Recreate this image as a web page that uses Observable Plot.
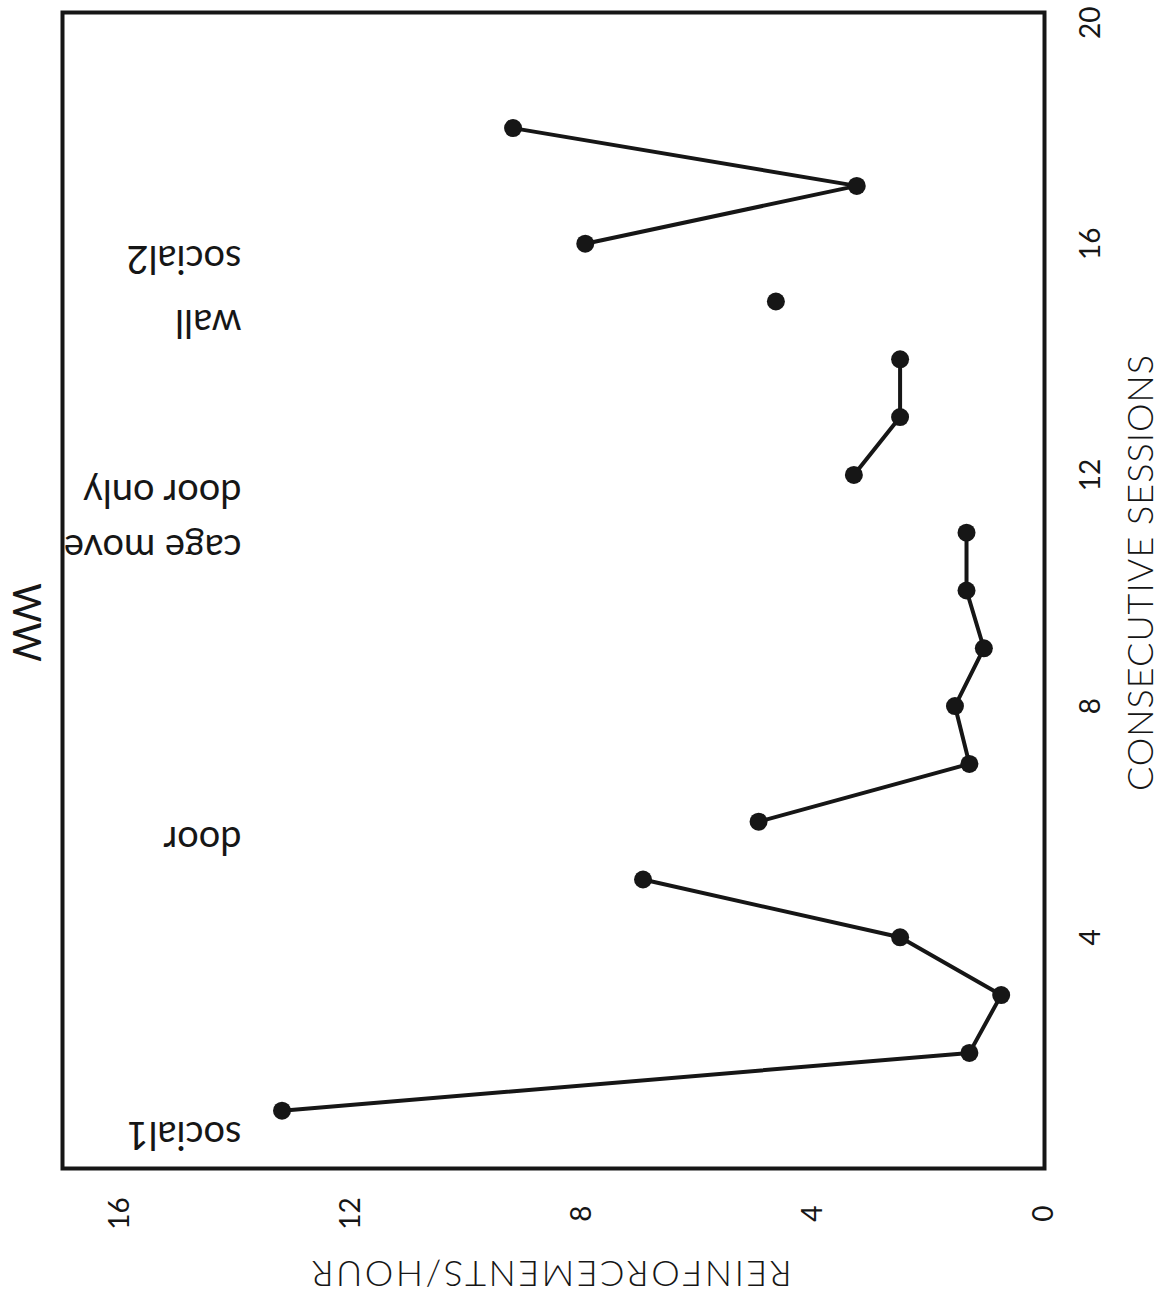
<!DOCTYPE html>
<html>
<head>
<meta charset="utf-8">
<script src="https://cdn.jsdelivr.net/npm/d3@7"></script>
<script src="https://cdn.jsdelivr.net/npm/@observablehq/plot@0.6"></script>
<style>
  html, body { margin: 0; padding: 0; background: #fff; }
  #chart svg { display: block; }
</style>
</head>
<body>
<div id="chart"></div>
<script>
// Sessions (vertical axis, bottom→top) and reinforcements per hour (horizontal axis, right→left)
const sessions = [1, 2, 3, 4, 5, 6, 7, 8, 9, 10, 11, 12, 13, 14, 15, 16, 17, 18];
const rates    = [13.2, 1.3, 0.75, 2.5, 6.95, 4.95, 1.3, 1.55, 1.05, 1.35, 1.35, 3.3, 2.5, 2.5, 4.65, 7.95, 3.25, 9.2];
const segments = [1, 1, 1, 1, 1, 2, 2, 2, 2, 2, 2, 3, 3, 3, 4, 5, 5, 5];

const noteLabels   = ["social1", "door", "cage move", "door only", "wall", "social2"];
const noteSessions = [0.6, 5.7, 10.75, 11.7, 14.65, 15.75];
const noteRate     = 13.9;

const sessionTicks = [4, 8, 12, 16];
const sessionTopTick = [20];
const rateTicks    = [0, 4, 8, 12, 16];

const data = sessions.map((s, i) => ({session: s, rate: rates[i], segment: segments[i]}));
const notes = noteLabels.map((label, i) => ({label, session: noteSessions[i], rate: noteRate}));

const ink = "#161616";
const font = "Lato, 'Open Sans', 'DejaVu Sans', sans-serif";

const chart = Plot.plot({
  width: 1170,
  height: 1298,
  marginLeft: 62,
  marginRight: 126,
  marginTop: 12,
  marginBottom: 130,
  style: {background: "#fff", fontFamily: font, color: ink},
  x: {domain: [0, 17], reverse: true, axis: null},
  y: {domain: [0, 20], axis: null},
  marks: [
    Plot.frame({stroke: ink, strokeWidth: 4}),
    Plot.line(data, {x: "rate", y: "session", z: "segment", stroke: ink, strokeWidth: 4, strokeLinejoin: "round"}),
    Plot.dot(data, {x: "rate", y: "session", r: 9, fill: ink, stroke: "none"}),
    // session tick labels (right side, reading bottom to top)
    Plot.text(sessionTicks, {y: d => d, frameAnchor: "right", textAnchor: "middle", lineAnchor: "middle", dx: 47, rotate: -90, fontSize: 28, fill: ink, text: d => String(d)}),
    Plot.text(sessionTopTick, {y: d => d, frameAnchor: "right", textAnchor: "end", lineAnchor: "middle", dx: 47, dy: -6, rotate: -90, fontSize: 28, fill: ink, text: d => String(d)}),
    // rate tick labels (bottom, reading bottom to top)
    Plot.text(rateTicks, {x: d => d, frameAnchor: "bottom", textAnchor: "middle", lineAnchor: "middle", dy: 45, rotate: -90, fontSize: 28, fill: ink, text: d => String(d)}),
    // annotations (upside down)
    Plot.text(notes, {x: "rate", y: "session", text: "label", rotate: 180, textAnchor: "start", lineAnchor: "middle", fontSize: 38, fill: ink}),
    // axis titles
    Plot.text(["CONSECUTIVE SESSIONS"], {frameAnchor: "right", textAnchor: "middle", lineAnchor: "middle", dx: 97, dy: -18, rotate: -90, fontSize: 36, fontWeight: 300, fill: ink, text: d => d}),
    Plot.text(["REINFORCEMENTS/HOUR"], {frameAnchor: "bottom", textAnchor: "middle", lineAnchor: "middle", dy: 104, dx: -3, rotate: 180, fontSize: 36, fontWeight: 300, fill: ink, text: d => d}),
    Plot.text(["WW"], {frameAnchor: "left", textAnchor: "middle", lineAnchor: "middle", dx: -37, dy: 32, rotate: 90, fontSize: 38, fill: ink, text: d => d})
  ]
});

d3.select(chart).selectAll("text")
  .filter(function() { return this.textContent === "CONSECUTIVE SESSIONS"; })
  .style("letter-spacing", "1px");
d3.select(chart).selectAll("text")
  .filter(function() { return this.textContent === "REINFORCEMENTS/HOUR"; })
  .style("letter-spacing", "2.5px");

document.getElementById("chart").appendChild(chart);
</script>
</body>
</html>
